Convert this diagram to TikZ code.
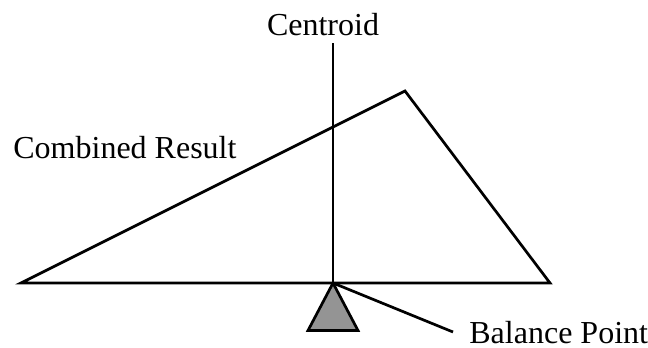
\documentclass[tikz,border=0pt]{standalone}
\usepackage{fontspec}
\setmainfont{Liberation Serif}
\usetikzlibrary{calc}
\tikzset{
  beam/.style={line width=1.35pt, line join=miter},
  lbl/.style={inner sep=0pt, font=\fontsize{16}{19}\selectfont},
  fulcrum/.style={line width=1.35pt, fill=black!42, line join=miter}
}

\begin{document}
\begin{tikzpicture}[x=0.5pt,y=-0.5pt]
  \useasboundingbox (0,0) rectangle (648,348);
  \coordinate (left) at (21,283);
  \coordinate (apex) at (405,91);
  \coordinate (right) at (550,283);
  \coordinate (pivot) at (333,283);
  \coordinate (top) at (333,43);
  \coordinate (baseL) at (308,330.5);
  \coordinate (baseR) at (358,330.5);
  \coordinate (tip) at (453,332);
  \node[lbl, anchor=base] (centroid) at (323,35) {Centroid};
  \node[lbl, anchor=base west] (result) at (13,158) {Combined Result};
  \node[lbl, anchor=base west] (balance) at (469,343) {Balance Point};
  \draw[beam] (left) -- (apex) -- (right) -- cycle;
  \draw[beam] (top) -- (pivot);
  \draw[fulcrum] (pivot) -- (baseL) -- (baseR) -- cycle;
  \draw[beam] (pivot) -- (tip);
\end{tikzpicture}
\end{document}
